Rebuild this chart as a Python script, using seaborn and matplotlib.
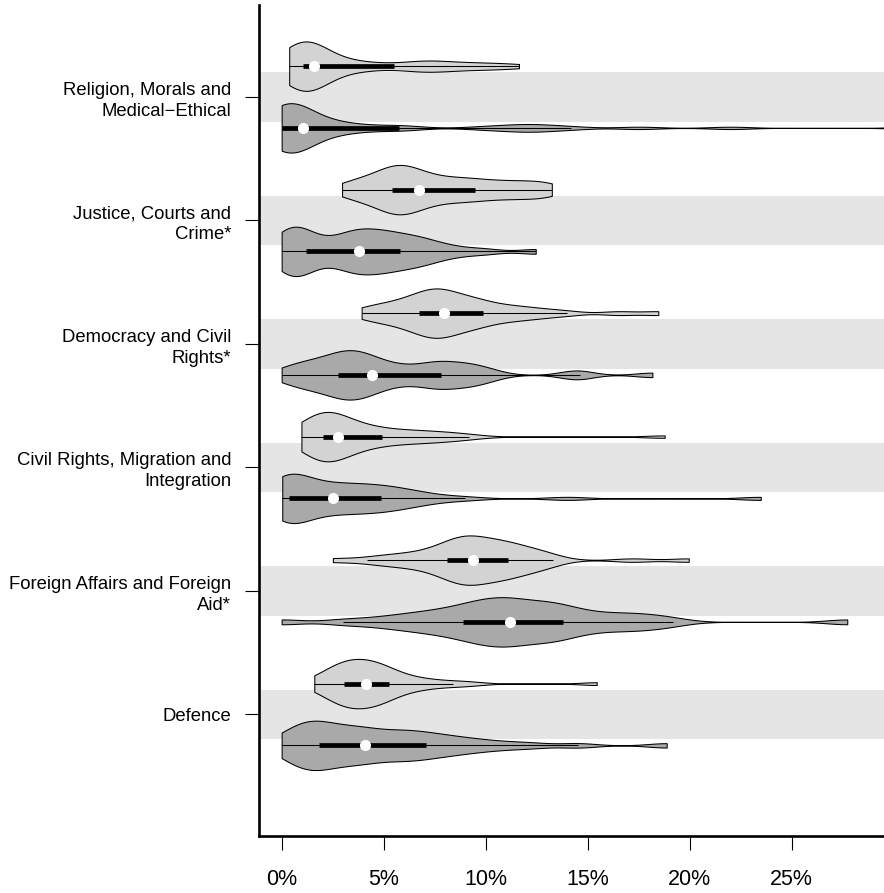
import numpy as np
import pandas as pd
import matplotlib
matplotlib.use("Agg")
import matplotlib.pyplot as plt
import seaborn as sns
from matplotlib.cbook import boxplot_stats

plt.rcParams["font.family"] = ["Liberation Sans", "DejaVu Sans"]

topics = [
    "Religion, Morals and\nMedical\u2212Ethical",
    "Justice, Courts and\nCrime*",
    "Democracy and Civil\nRights*",
    "Civil Rights, Migration and\nIntegration",
    "Foreign Affairs and Foreign\nAid*",
    "Defence",
]
groups = ["first", "second"]

# Share of attention per topic (percent), one list per topic and group
religion_first = [0.37, 0.45, 0.55, 0.62, 0.70, 0.78, 0.85, 0.90, 0.95, 1.00,
                  1.05, 1.10, 1.15, 1.20, 1.25, 1.30, 1.35, 1.42, 1.48, 1.53,
                  1.60, 1.80, 2.00, 2.30, 2.60, 2.90, 3.30, 3.80, 4.40, 5.20,
                  6.40, 6.70, 7.00, 7.40, 7.90, 8.50, 9.20, 9.90, 10.70, 11.63]
religion_second = [0.00, 0.00, 0.00, 0.00, 0.00, 0.00, 0.00, 0.00, 0.00, 0.00,
                   0.05, 0.20, 0.35, 0.50, 0.60, 0.70, 0.80, 0.90, 0.95, 1.00,
                   1.12, 1.30, 1.60, 1.90, 2.20, 2.60, 3.00, 3.60, 4.40, 5.60,
                   6.20, 9.80, 11.00, 11.80, 12.30, 13.00, 14.20, 17.50, 22.00, 31.00]
justice_first = [2.96, 3.30, 3.70, 4.00, 4.30, 4.55, 4.80, 5.00, 5.15, 5.30,
                 5.42, 5.55, 5.68, 5.80, 5.92, 6.05, 6.20, 6.35, 6.50, 6.65,
                 6.85, 7.10, 7.35, 7.60, 7.90, 8.20, 8.50, 8.80, 9.10, 9.40,
                 9.72, 10.10, 10.50, 10.90, 11.30, 11.70, 12.10, 12.60, 12.95, 13.24]
justice_second = [0.00, 0.00, 0.10, 0.20, 0.35, 0.50, 0.65, 0.80, 0.95, 1.10,
                  1.22, 1.40, 1.80, 2.30, 2.70, 3.00, 3.20, 3.40, 3.55, 3.70,
                  3.88, 4.10, 4.30, 4.50, 4.70, 4.90, 5.10, 5.30, 5.50, 5.70,
                  6.10, 6.30, 6.55, 6.80, 7.10, 7.50, 8.00, 8.80, 10.00, 12.45]
democracy_first = [3.92, 4.30, 4.70, 5.10, 5.40, 5.70, 5.95, 6.20, 6.45, 6.65,
                   6.76, 6.90, 7.05, 7.20, 7.35, 7.50, 7.62, 7.74, 7.84, 7.92,
                   8.00, 8.20, 8.40, 8.60, 8.80, 9.00, 9.20, 9.40, 9.60, 9.80,
                   10.12, 10.50, 10.90, 11.30, 11.80, 12.30, 13.00, 14.00, 16.50, 18.46]
democracy_second = [0.00, 0.40, 0.80, 1.10, 1.40, 1.70, 1.95, 2.20, 2.45, 2.65,
                    2.82, 3.00, 3.15, 3.30, 3.45, 3.60, 3.75, 3.95, 4.15, 4.35,
                    4.47, 4.80, 5.15, 5.50, 5.90, 6.40, 6.90, 7.30, 7.55, 7.75,
                    8.00, 8.40, 8.80, 9.10, 9.40, 9.80, 10.40, 14.30, 14.60, 18.17]
civil_first = [0.97, 1.10, 1.25, 1.40, 1.50, 1.60, 1.70, 1.80, 1.88, 1.96,
               2.03, 2.10, 2.18, 2.26, 2.34, 2.42, 2.50, 2.58, 2.64, 2.70,
               2.80, 3.00, 3.20, 3.40, 3.65, 3.90, 4.15, 4.40, 4.60, 4.80,
               5.32, 5.70, 6.10, 6.50, 6.90, 7.40, 7.90, 8.50, 9.20, 18.77]
civil_second = [0.03, 0.05, 0.08, 0.10, 0.13, 0.17, 0.21, 0.26, 0.30, 0.34,
                0.38, 0.55, 0.75, 0.95, 1.20, 1.45, 1.70, 1.95, 2.20, 2.42,
                2.60, 2.85, 3.10, 3.35, 3.60, 3.85, 4.10, 4.35, 4.60, 4.82,
                5.10, 5.40, 5.70, 6.00, 6.40, 6.90, 7.60, 9.00, 14.00, 23.48]
foreign_first = [2.51, 4.20, 5.00, 5.60, 6.10, 6.60, 7.00, 7.40, 7.70, 7.95,
                 8.15, 8.30, 8.45, 8.60, 8.75, 8.90, 9.02, 9.14, 9.25, 9.33,
                 9.41, 9.60, 9.80, 10.00, 10.20, 10.40, 10.60, 10.80, 10.95, 11.05,
                 11.13, 11.40, 11.70, 12.00, 12.30, 12.60, 12.90, 13.30, 17.20, 19.95]
foreign_second = [0.00, 3.00, 4.50, 5.50, 6.20, 6.80, 7.30, 7.80, 8.20, 8.60,
                  9.01, 9.25, 9.50, 9.75, 10.00, 10.25, 10.50, 10.75, 10.95, 11.10,
                  11.28, 11.55, 11.85, 12.15, 12.45, 12.75, 13.05, 13.30, 13.50, 13.70,
                  14.14, 14.60, 15.10, 15.70, 16.40, 17.00, 17.60, 18.30, 19.20, 27.72]
defence_first = [1.60, 1.85, 2.10, 2.30, 2.50, 2.65, 2.78, 2.90, 2.98, 3.03,
                 3.08, 3.20, 3.32, 3.44, 3.56, 3.68, 3.80, 3.92, 4.02, 4.10,
                 4.14, 4.26, 4.38, 4.50, 4.62, 4.74, 4.86, 4.98, 5.10, 5.22,
                 5.38, 5.60, 5.90, 6.20, 6.60, 7.00, 7.60, 8.40, 9.30, 15.44]
defence_second = [0.00, 0.25, 0.50, 0.70, 0.90, 1.10, 1.30, 1.45, 1.60, 1.75,
                  1.86, 2.05, 2.30, 2.55, 2.80, 3.05, 3.30, 3.55, 3.80, 4.00,
                  4.16, 4.50, 4.85, 5.20, 5.50, 5.80, 6.10, 6.40, 6.70, 6.95,
                  7.39, 7.80, 8.20, 8.70, 9.30, 10.00, 11.00, 12.30, 14.50, 18.87]

first_series = [religion_first, justice_first, democracy_first,
                civil_first, foreign_first, defence_first]
second_series = [religion_second, justice_second, democracy_second,
                 civil_second, foreign_second, defence_second]

# Kernel bandwidth (percentage points) used for each violin
bw_first = [1.0, 0.8, 0.8, 1.0, 0.9, 0.8]
bw_second = [1.0, 0.8, 0.8, 1.0, 1.0, 0.9]

x_ticks = [0, 5, 10, 15, 20, 25]
x_tick_labels = ["0%", "5%", "10%", "15%", "20%", "25%"]

palette = {"first": "#D3D3D3", "second": "#A9A9A9"}
band_color = "#E5E5E5"

rows = []
for topic, a, b in zip(topics, first_series, second_series):
    rows += [(topic, "first", v) for v in a]
    rows += [(topic, "second", v) for v in b]
df = pd.DataFrame(rows, columns=["topic", "group", "share"])


def fixed_bandwidth(h):
    # gaussian_kde expects a factor relative to the sample standard deviation
    return lambda kde: h / np.std(kde.dataset, ddof=1)


fig = plt.figure(figsize=(8.84, 8.93), dpi=100)
ax = fig.add_axes([259 / 884, 57 / 893, 1 - 259 / 884, 831 / 893])

# light grey bands behind each topic
for i in range(len(topics)):
    ax.axhspan(i - 0.2, i + 0.2, color=band_color, lw=0, zorder=0)

bws = {"first": bw_first, "second": bw_second}
for ti, topic in enumerate(topics):
    for grp in groups:
        sub = df[(df["topic"] == topic) & (df["group"] == grp)]
        sns.violinplot(
            data=sub, x="share", y="topic", hue="group",
            order=topics, hue_order=groups, palette=palette, saturation=1,
            dodge=True, width=1.0, gap=0.2, density_norm="width", cut=0,
            gridsize=400, bw_method=fixed_bandwidth(bws[grp][ti]),
            inner=None, linewidth=0.75, linecolor="black", legend=False, ax=ax,
        )

# box, whiskers and median marker of each violin
offsets = {"first": -0.25, "second": 0.25}
for ti, topic in enumerate(topics):
    for grp in groups:
        vals = df[(df["topic"] == topic) & (df["group"] == grp)]["share"].to_numpy()
        st = boxplot_stats(vals)[0]
        y = ti + offsets[grp]
        ax.plot([st["whislo"], st["whishi"]], [y, y], color="black", lw=0.75,
                solid_capstyle="butt", zorder=3)
        ax.plot([st["q1"], st["q3"]], [y, y], color="black", lw=3.4,
                solid_capstyle="butt", zorder=4)
        ax.plot([st["med"]], [y], marker="o", ms=8, mfc="white", mec="white",
                mew=0, zorder=5)

ax.set_xlim(-1.11, 29.52)
ax.set_ylim(5.984, -0.745)
ax.set_xticks(x_ticks)
ax.set_xticklabels(x_tick_labels)
ax.set_yticks(range(len(topics)))
ax.set_yticklabels(topics)
ax.set_xlabel("")
ax.set_ylabel("")

for side in ["top", "right"]:
    ax.spines[side].set_visible(False)
for side in ["left", "bottom"]:
    ax.spines[side].set_linewidth(1.9)
    ax.spines[side].set_color("black")

ax.tick_params(axis="x", length=10, width=0.8, color="black", pad=14,
               labelsize=15.5)
ax.tick_params(axis="y", length=10, width=0.8, color="black", pad=10,
               labelsize=13.3)
for lbl in ax.get_yticklabels():
    lbl.set_multialignment("right")
    lbl.set_linespacing(1.3)

fig.savefig("out.png", dpi=100)
